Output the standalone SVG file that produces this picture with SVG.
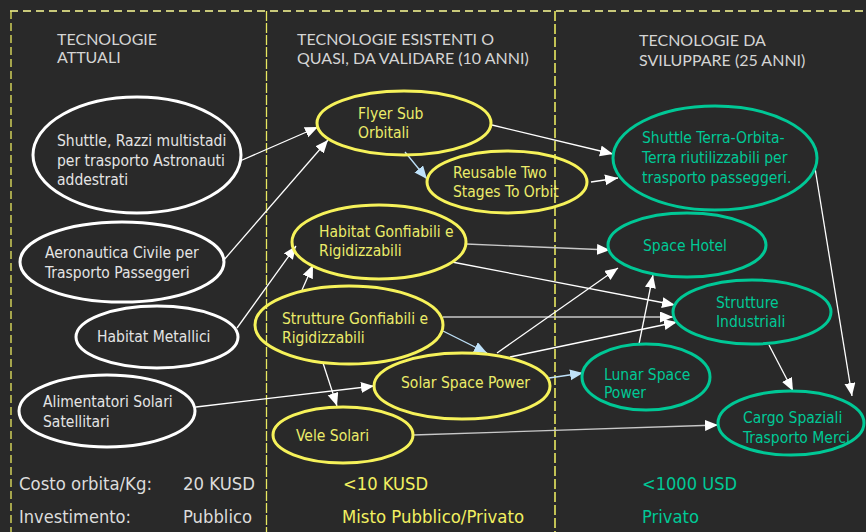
<svg xmlns="http://www.w3.org/2000/svg" width="866" height="532" viewBox="0 0 866 532">
<defs>
<style>
.bg{fill:#292929}
.hdr{font-family:Lato,"Liberation Sans",sans-serif;font-size:16px;fill:#d4d4d4}
.t{font-family:"DejaVu Sans Condensed","DejaVu Sans",sans-serif;font-stretch:condensed;font-size:15.5px}
.w ellipse{fill:none;stroke:#ffffff;stroke-width:3}
.w text{fill:#e4e4e4}
.y ellipse{fill:none;stroke:#f6f25a;stroke-width:3}
.y text{fill:#ecec6a}
.g ellipse{fill:none;stroke:#00c896;stroke-width:3}
.g text{fill:#00c896}
.c line{stroke:#ffffff;stroke-width:1.3;fill:none}
.c line.gr{stroke:#c8c8c8}
.c line.bl{stroke:#bfe2fa}
.bt{font-family:"DejaVu Sans Condensed","DejaVu Sans",sans-serif;font-stretch:condensed;font-size:17px}
</style>
<marker id="aw" markerUnits="userSpaceOnUse" markerWidth="14" markerHeight="12" refX="13" refY="5.5" orient="auto"><path d="M0,0 L13,5.5 L0,11 z" fill="#ffffff"/></marker>
<marker id="ab" markerUnits="userSpaceOnUse" markerWidth="14" markerHeight="12" refX="13" refY="5.5" orient="auto"><path d="M0,0 L13,5.5 L0,11 z" fill="#bfe2fa"/></marker>
</defs>
<rect class="bg" x="0" y="0" width="866" height="532"/>
<g id="frame">
<line x1="10" y1="11" x2="866" y2="11" stroke="#c8c87a" stroke-width="2" stroke-dasharray="8 5"/>
<line x1="11" y1="11" x2="11" y2="532" stroke="#e8e860" stroke-width="1.3" stroke-dasharray="8 4"/>
<line x1="266.5" y1="11" x2="266.5" y2="532" stroke="#e8e860" stroke-width="1.3" stroke-dasharray="10 2"/>
<line x1="555" y1="11" x2="555" y2="532" stroke="#e8e860" stroke-width="1.6" stroke-dasharray="10 3"/>
</g>
<g id="headers" class="hdr">
<text x="57" y="45">TECNOLOGIE</text>
<text x="57" y="63">ATTUALI</text>
<text x="297" y="45">TECNOLOGIE ESISTENTI O</text>
<text x="297" y="64">QUASI, DA VALIDARE (10 ANNI)</text>
<text x="639" y="46">TECNOLOGIE DA</text>
<text x="639" y="66">SVILUPPARE (25 ANNI)</text>
</g>
<g id="connectors" class="c">
<line x1="240" y1="161" x2="318" y2="127" marker-end="url(#aw)"/>
<line x1="223" y1="261" x2="328" y2="140" marker-end="url(#aw)"/>
<line x1="237" y1="328" x2="296" y2="246" marker-end="url(#aw)"/>
<line x1="302" y1="290" x2="313" y2="265" marker-end="url(#aw)"/>
<line x1="196" y1="407" x2="374" y2="386" marker-end="url(#aw)"/>
<line x1="323" y1="363" x2="337" y2="406" marker-end="url(#aw)"/>
<line class="bl" x1="405" y1="152" x2="427" y2="179" marker-end="url(#ab)"/>
<line x1="492" y1="125" x2="613" y2="154" marker-end="url(#aw)"/>
<line x1="591" y1="182" x2="618" y2="178" marker-end="url(#aw)"/>
<line class="gr" x1="466" y1="244" x2="610" y2="250" marker-end="url(#aw)"/>
<line x1="452" y1="262" x2="675" y2="305" marker-end="url(#aw)"/>
<line class="gr" x1="443" y1="317" x2="673" y2="317" marker-end="url(#aw)"/>
<line x1="510" y1="357" x2="677" y2="322" marker-end="url(#aw)"/>
<line x1="497" y1="353" x2="618" y2="268" marker-end="url(#aw)"/>
<line class="bl" x1="443" y1="331" x2="487" y2="353" marker-end="url(#ab)"/>
<line class="bl" x1="549" y1="378" x2="583" y2="373" marker-end="url(#ab)"/>
<line x1="639" y1="344" x2="653" y2="275" marker-end="url(#aw)"/>
<line class="gr" x1="413" y1="435" x2="718" y2="425" marker-end="url(#aw)"/>
<line x1="769" y1="345" x2="793" y2="391" marker-end="url(#aw)"/>
<line x1="815" y1="168" x2="852" y2="396" marker-end="url(#aw)"/>
</g>
<g id="n-shuttle" class="w t">
<ellipse cx="137" cy="155" rx="104" ry="58"/>
<text x="57" y="146">Shuttle, Razzi multistadi</text>
<text x="57" y="166">per trasporto Astronauti</text>
<text x="57" y="185">addestrati</text>
</g>
<g id="n-aeronautica" class="w t">
<ellipse cx="122" cy="262" rx="102" ry="40"/>
<text x="45" y="258">Aeronautica Civile per</text>
<text x="45" y="278">Trasporto Passeggeri</text>
</g>
<g id="n-habitat-metallici" class="w t">
<ellipse cx="157" cy="337" rx="81" ry="31"/>
<text x="97" y="342">Habitat Metallici</text>
</g>
<g id="n-alimentatori" class="w t">
<ellipse cx="107" cy="411" rx="88" ry="36"/>
<text x="43" y="407">Alimentatori Solari</text>
<text x="43" y="427">Satellitari</text>
</g>
<g id="n-flyer" class="y t">
<ellipse cx="404" cy="123" rx="87" ry="32"/>
<text x="358" y="119">Flyer Sub</text>
<text x="358" y="138">Orbitali</text>
</g>
<g id="n-reusable" class="y t">
<ellipse cx="507" cy="182" rx="80" ry="31"/>
<text x="453" y="178">Reusable Two</text>
<text x="453" y="197">Stages To Orbit</text>
</g>
<g id="n-habitat-gonfiabili" class="y t">
<ellipse cx="379" cy="242" rx="87" ry="37"/>
<text x="319" y="237">Habitat Gonfiabili e</text>
<text x="319" y="256">Rigidizzabili</text>
</g>
<g id="n-strutture-gonfiabili" class="y t">
<ellipse cx="349" cy="325" rx="94" ry="39"/>
<text x="282" y="324">Strutture Gonfiabili e</text>
<text x="282" y="343">Rigidizzabili</text>
</g>
<g id="n-solar" class="y t">
<ellipse cx="462" cy="386" rx="88" ry="33"/>
<text x="401" y="388">Solar Space Power</text>
</g>
<g id="n-vele" class="y t">
<ellipse cx="343" cy="435" rx="70" ry="28"/>
<text x="296" y="441">Vele Solari</text>
</g>
<g id="n-shuttle-terra" class="g t">
<ellipse cx="715" cy="158" rx="102" ry="52"/>
<text x="642" y="143">Shuttle Terra-Orbita-</text>
<text x="642" y="163">Terra riutilizzabili per</text>
<text x="642" y="183">trasporto passeggeri.</text>
</g>
<g id="n-space-hotel" class="g t">
<ellipse cx="687" cy="245" rx="79" ry="32"/>
<text x="643" y="251">Space Hotel</text>
</g>
<g id="n-strutture-industriali" class="g t">
<ellipse cx="752" cy="312" rx="79" ry="32"/>
<text x="716" y="308">Strutture</text>
<text x="716" y="327">Industriali</text>
</g>
<g id="n-lunar" class="g t">
<ellipse cx="646" cy="377" rx="64" ry="33"/>
<text x="604" y="380">Lunar Space</text>
<text x="604" y="398">Power</text>
</g>
<g id="n-cargo" class="g t">
<ellipse cx="791" cy="423" rx="73" ry="32"/>
<text x="743" y="423">Cargo Spaziali</text>
<text x="743" y="443">Trasporto Merci</text>
</g>
<g id="footer" class="bt">
<text x="19" y="490" fill="#dcdcdc" textLength="133" lengthAdjust="spacingAndGlyphs">Costo orbita/Kg:</text>
<text x="183" y="490" fill="#dcdcdc" textLength="72" lengthAdjust="spacingAndGlyphs">20 KUSD</text>
<text x="19" y="523" fill="#dcdcdc" textLength="112" lengthAdjust="spacingAndGlyphs">Investimento:</text>
<text x="183" y="523" fill="#dcdcdc" textLength="69" lengthAdjust="spacingAndGlyphs">Pubblico</text>
<text x="343" y="490" fill="#f2f060" textLength="85" lengthAdjust="spacingAndGlyphs">&lt;10 KUSD</text>
<text x="342" y="523" fill="#f2f060" textLength="182" lengthAdjust="spacingAndGlyphs">Misto Pubblico/Privato</text>
<text x="642" y="490" fill="#00c896" textLength="95" lengthAdjust="spacingAndGlyphs">&lt;1000 USD</text>
<text x="642" y="523" fill="#00c896" textLength="57" lengthAdjust="spacingAndGlyphs">Privato</text>
</g>
</svg>
